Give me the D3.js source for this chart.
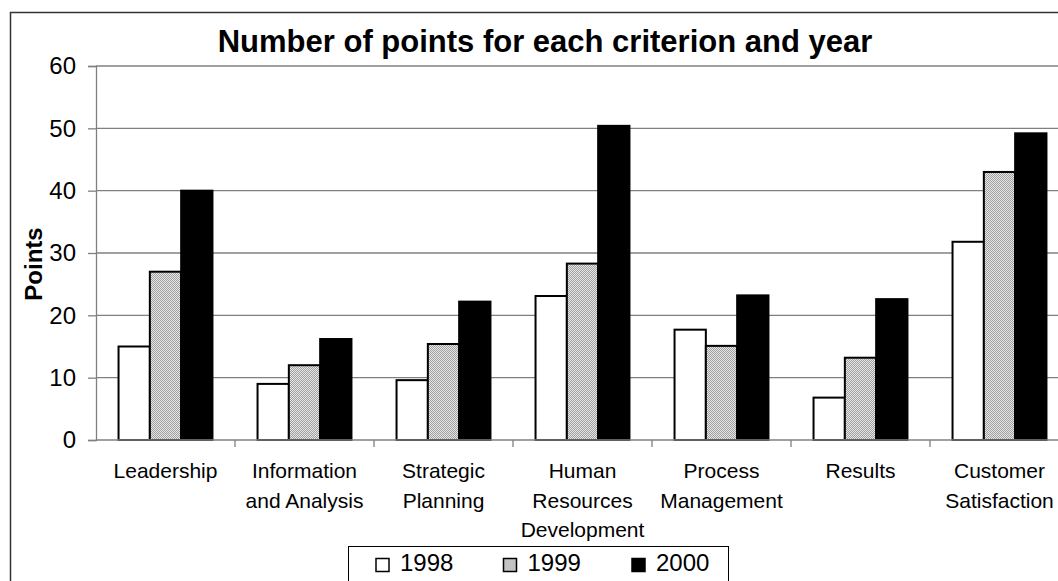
<!DOCTYPE html>
<html>
<head>
<meta charset="utf-8">
<script src="https://cdn.jsdelivr.net/npm/d3@7"></script>
<style>
  html, body { margin: 0; padding: 0; background: #fff; overflow: hidden; }
  svg { display: block; font-family: "Liberation Sans", Arial, sans-serif; }
</style>
</head>
<body>
<svg id="chart" width="1058" height="581"></svg>
<script>
// ---- data ----
const categories = [
  ["Leadership"],
  ["Information", "and Analysis"],
  ["Strategic", "Planning"],
  ["Human", "Resources", "Development"],
  ["Process", "Management"],
  ["Results"],
  ["Customer", "Satisfaction"]
];
const years = ["1998", "1999", "2000"];
const values1998 = [15, 9, 9.6, 23.1, 17.7, 6.8, 31.8];
const values1999 = [27, 12, 15.4, 28.3, 15.1, 13.2, 43];
const values2000 = [40, 16.2, 22.2, 50.4, 23.2, 22.6, 49.2];
const yTicks = [0, 10, 20, 30, 40, 50, 60];
const titleText = "Number of points for each criterion and year";
const yTitle = "Points";

const series = [values1998, values1999, values2000];
const catNames = categories.map(c => c.join(" "));

// ---- layout ----
const svg = d3.select("#chart");
const plot = { left: 96, top: 66, right: 1069, bottom: 440 };

// pattern for 1999
const defs = svg.append("defs");
const pat = defs.append("pattern").attr("id", "dots")
  .attr("patternUnits", "userSpaceOnUse").attr("width", 2).attr("height", 2);
pat.append("rect").attr("width", 2).attr("height", 2).attr("fill", "#e6e6e6");
pat.append("rect").attr("width", 1).attr("height", 1).attr("fill", "#a0a0a0");
pat.append("rect").attr("x", 1).attr("y", 1).attr("width", 1).attr("height", 1).attr("fill", "#a0a0a0");

const fills = ["#ffffff", "url(#dots)", "#000000"];

// outer border
svg.append("rect")
  .attr("x", 10.5).attr("y", 12.5)
  .attr("width", 1100).attr("height", 620)
  .attr("fill", "#fff").attr("stroke", "#333").attr("stroke-width", 1.5);

// scales
const x0 = d3.scaleBand().domain(catNames).range([plot.left, plot.right]).paddingInner(0).paddingOuter(0);
const x1 = d3.scaleBand().domain(years).range([0, x0.bandwidth()]).paddingInner(0).paddingOuter(0.72);
const y = d3.scaleLinear().domain([0, 60]).range([plot.bottom, plot.top]);

// gridlines
svg.append("g").selectAll("line").data(yTicks.filter(t => t > 0)).join("line")
  .attr("x1", plot.left).attr("x2", plot.right)
  .attr("y1", d => y(d)).attr("y2", d => y(d))
  .attr("stroke", "#808080").attr("stroke-width", 1.3);

// y axis
const yAxis = svg.append("g").attr("transform", `translate(${plot.left},0)`)
  .call(d3.axisLeft(y).tickValues(yTicks).tickSize(8).tickPadding(12).tickFormat(d3.format("d")));
yAxis.select(".domain").attr("stroke", "#808080").attr("stroke-width", 1.3);
yAxis.selectAll(".tick line").attr("stroke", "#808080").attr("stroke-width", 1.3);
yAxis.selectAll(".tick text").attr("font-size", 24).attr("fill", "#000")
  .attr("font-family", "'Liberation Sans', Arial, sans-serif");

// bars
const groups = svg.append("g").selectAll("g").data(catNames).join("g")
  .attr("transform", d => `translate(${x0(d)},0)`);
groups.selectAll("rect").data((d, i) => years.map((yr, k) => ({ yr, k, v: series[k][i] }))).join("rect")
  .attr("x", d => x1(d.yr))
  .attr("y", d => y(d.v))
  .attr("width", x1.bandwidth())
  .attr("height", d => y(0) - y(d.v))
  .attr("fill", d => fills[d.k])
  .attr("stroke", "#000").attr("stroke-width", 2);

// x axis baseline and ticks
svg.append("line").attr("x1", plot.left).attr("x2", plot.right)
  .attr("y1", plot.bottom).attr("y2", plot.bottom)
  .attr("stroke", "#808080").attr("stroke-width", 1.3);
svg.append("g").selectAll("line").data(catNames.slice(1)).join("line")
  .attr("x1", d => x0(d)).attr("x2", d => x0(d))
  .attr("y1", plot.bottom).attr("y2", plot.bottom + 7)
  .attr("stroke", "#808080").attr("stroke-width", 1.3);

// category labels
const lab = svg.append("g").selectAll("text").data(categories).join("text")
  .attr("x", (d, i) => x0(catNames[i]) + x0.bandwidth() / 2)
  .attr("y", 478)
  .attr("text-anchor", "middle")
  .attr("font-size", 21)
  .attr("fill", "#000");
lab.selectAll("tspan").data(d => d).join("tspan")
  .attr("x", function () { return d3.select(this.parentNode).attr("x"); })
  .attr("dy", (d, j) => j === 0 ? 0 : 29.5)
  .text(d => d);

// title
svg.append("text").attr("x", 545).attr("y", 52)
  .attr("text-anchor", "middle").attr("font-size", 31).attr("font-weight", "bold")
  .text(titleText);

// y title
svg.append("text")
  .attr("transform", "translate(42,264) rotate(-90)")
  .attr("text-anchor", "middle").attr("font-size", 24).attr("font-weight", "bold")
  .text(yTitle);

// legend
const lg = svg.append("g");
lg.append("rect").attr("x", 348.5).attr("y", 546.5).attr("width", 380).attr("height", 44)
  .attr("fill", "#fff").attr("stroke", "#000").attr("stroke-width", 1);
const legX = [376, 503.5, 632];
const items = lg.selectAll("g").data(years).join("g")
  .attr("transform", (d, i) => `translate(${legX[i]},0)`);
items.append("rect").attr("x", 0).attr("y", 558.5).attr("width", 13).attr("height", 13)
  .attr("fill", (d, i) => fills[i]).attr("stroke", "#000").attr("stroke-width", 1.5);
items.append("text").attr("x", 24).attr("y", 571).attr("font-size", 24).text(d => d);
</script>
</body>
</html>
